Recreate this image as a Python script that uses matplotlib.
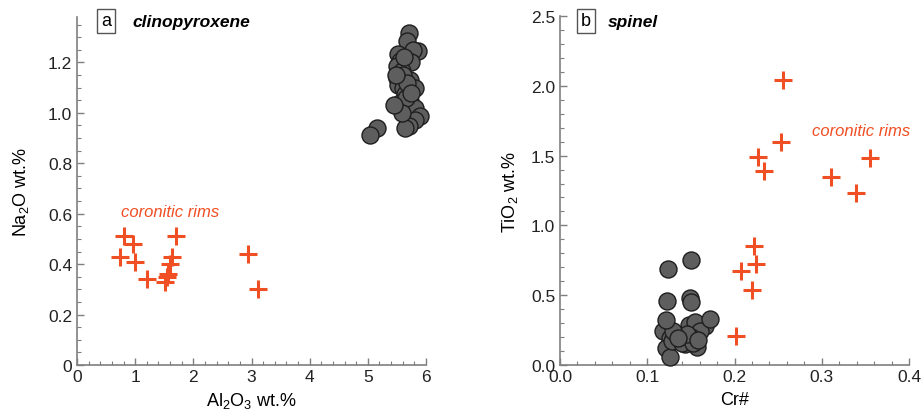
import matplotlib
matplotlib.use("Agg")
import matplotlib.pyplot as plt
from matplotlib.ticker import MultipleLocator, FixedLocator, FixedFormatter

plt.rcParams['font.family'] = ['Liberation Sans', 'DejaVu Sans']
plt.rcParams['mathtext.fontset'] = 'custom'
plt.rcParams['mathtext.rm'] = 'Liberation Sans'
plt.rcParams['mathtext.it'] = 'Liberation Sans:italic'
plt.rcParams['mathtext.bf'] = 'Liberation Sans:bold'

# ---- Panel a: clinopyroxene ----
cpx_core_al2o3 = [5.70, 5.67, 5.87, 5.78, 5.52, 5.55, 5.75, 5.50, 5.59, 5.50, 5.72, 5.52,
                  5.61, 5.81, 5.64, 5.55, 5.72, 5.81, 5.90, 5.81, 5.70, 5.64, 5.15, 5.04,
                  5.60, 5.65, 5.58, 5.68, 5.62, 5.75, 5.45, 5.48]
cpx_core_na2o = [1.315, 1.285, 1.245, 1.251, 1.232, 1.205, 1.201, 1.185, 1.164, 1.139, 1.132, 1.112,
                 1.099, 1.099, 1.073, 1.040, 1.046, 1.020, 0.987, 0.973, 0.947, 0.940, 0.940, 0.914,
                 1.150, 1.060, 1.000, 1.120, 1.220, 1.080, 1.030, 1.150]
cpx_rim_al2o3 = [0.80, 0.96, 0.74, 1.00, 1.20, 1.52, 1.55, 1.57, 1.60, 1.63, 1.71, 2.94, 3.12]
cpx_rim_na2o = [0.51, 0.48, 0.43, 0.41, 0.34, 0.33, 0.35, 0.36, 0.40, 0.43, 0.51, 0.44, 0.30]

# ---- Panel b: spinel ----
spl_core_cr = [0.124, 0.150, 0.123, 0.149, 0.150, 0.122, 0.118, 0.126, 0.122, 0.126,
               0.143, 0.152, 0.154, 0.166, 0.157, 0.128, 0.140, 0.148, 0.155, 0.160,
               0.150, 0.153, 0.145, 0.130, 0.135, 0.158, 0.121, 0.172]
spl_core_tio2 = [0.69, 0.75, 0.46, 0.48, 0.45, 0.26, 0.24, 0.19, 0.12, 0.06,
                 0.15, 0.25, 0.19, 0.28, 0.13, 0.17, 0.16, 0.29, 0.31, 0.24,
                 0.20, 0.16, 0.22, 0.24, 0.19, 0.18, 0.32, 0.33]
spl_rim_cr = [0.256, 0.253, 0.227, 0.234, 0.311, 0.339, 0.355, 0.222, 0.225, 0.207, 0.220, 0.202]
spl_rim_tio2 = [2.04, 1.60, 1.49, 1.39, 1.35, 1.23, 1.48, 0.85, 0.72, 0.67, 0.54, 0.21]

cpx_yticks = [0, 0.2, 0.4, 0.6, 0.8, 1.0, 1.2]
cpx_yticklabels = ['0', '0.2', '0.4', '0.6', '0.8', '1.0', '1.2']
cpx_xticks = [0, 1, 2, 3, 4, 5, 6]
spl_yticks = [0.0, 0.5, 1.0, 1.5, 2.0, 2.5]
spl_xticks = [0.0, 0.1, 0.2, 0.3, 0.4]

RIM = '#f04e23'
CORE_FACE = '#5e5e5e'
CORE_EDGE = '#1e1e1e'
SPINE = '#7f7f7f'

W, H = 922, 414
fig = plt.figure(figsize=(W / 100, H / 100), dpi=100)

def px_axes(x0, x1, ytop, ybot):
    return fig.add_axes([x0 / W, 1 - ybot / H, (x1 - x0) / W, (ybot - ytop) / H])

ax1 = px_axes(77, 426, 18, 366)
ax2 = px_axes(560, 909, 17, 366)

def style(ax):
    for s in ['top', 'right']:
        ax.spines[s].set_visible(False)
    for s in ['left', 'bottom']:
        ax.spines[s].set_color(SPINE)
        ax.spines[s].set_linewidth(1.2)
    ax.tick_params(which='both', direction='in', colors=SPINE, labelcolor='#222222', labelsize=12.5)
    ax.tick_params(which='major', length=5, width=1)
    ax.tick_params(which='minor', length=3, width=0.8)
    ax.tick_params(axis='x', pad=3)

# Panel a
ax1.scatter(cpx_core_al2o3, cpx_core_na2o, s=150, c=CORE_FACE, edgecolors=CORE_EDGE,
            linewidths=1.0, zorder=3, clip_on=False)
ax1.plot(cpx_rim_al2o3, cpx_rim_na2o, '+', color=RIM, markersize=13, mew=2.2, zorder=4, clip_on=False)
ax1.set_xlim(0, 6)
ax1.set_ylim(0, 1.38)
ax1.xaxis.set_major_locator(FixedLocator(cpx_xticks))
ax1.xaxis.set_minor_locator(MultipleLocator(0.2))
ax1.yaxis.set_major_locator(FixedLocator(cpx_yticks))
ax1.yaxis.set_major_formatter(FixedFormatter(cpx_yticklabels))
ax1.yaxis.set_minor_locator(MultipleLocator(0.05))
style(ax1)
ax1.set_xlabel('Al$_2$O$_3$ wt.%', fontsize=13, labelpad=4)
ax1.set_ylabel('Na$_2$O wt.%', fontsize=13, labelpad=12)
ax1.text(1.6, 0.61, 'coronitic rims', color=RIM, fontsize=12, style='italic',
         ha='center', va='center')

# Panel b
ax2.scatter(spl_core_cr, spl_core_tio2, s=150, c=CORE_FACE, edgecolors=CORE_EDGE,
            linewidths=1.0, zorder=3, clip_on=False)
ax2.plot(spl_rim_cr, spl_rim_tio2, '+', color=RIM, markersize=13, mew=2.2, zorder=4, clip_on=False)
ax2.set_xlim(0, 0.4)
ax2.set_ylim(0, 2.5)
ax2.xaxis.set_major_locator(FixedLocator(spl_xticks))
ax2.xaxis.set_major_formatter(FixedFormatter(['%.1f' % v for v in spl_xticks]))
ax2.xaxis.set_minor_locator(MultipleLocator(0.02))
ax2.yaxis.set_major_locator(FixedLocator(spl_yticks))
ax2.yaxis.set_major_formatter(FixedFormatter(['%.1f' % v for v in spl_yticks]))
ax2.yaxis.set_minor_locator(MultipleLocator(0.1))
style(ax2)
ax2.set_xlabel('Cr#', fontsize=13, labelpad=5)
ax2.set_ylabel('TiO$_2$ wt.%', fontsize=13, labelpad=8)
ax2.text(0.345, 1.68, 'coronitic rims', color=RIM, fontsize=12, style='italic',
         ha='center', va='center')

# Panel labels
for xb, letter, xt, title in [(106, 'a', 132, 'clinopyroxene'), (586, 'b', 608, 'spinel')]:
    fig.text(xb / W, 1 - 22 / H, letter, fontsize=13, ha='center', va='center',
             bbox=dict(boxstyle='square,pad=0.2', fc='white', ec='#555555', lw=1))
    fig.text(xt / W, 1 - 22 / H, title, fontsize=12.5, fontweight='bold', style='italic',
             ha='left', va='center')

fig.savefig('out.png', dpi=100)
